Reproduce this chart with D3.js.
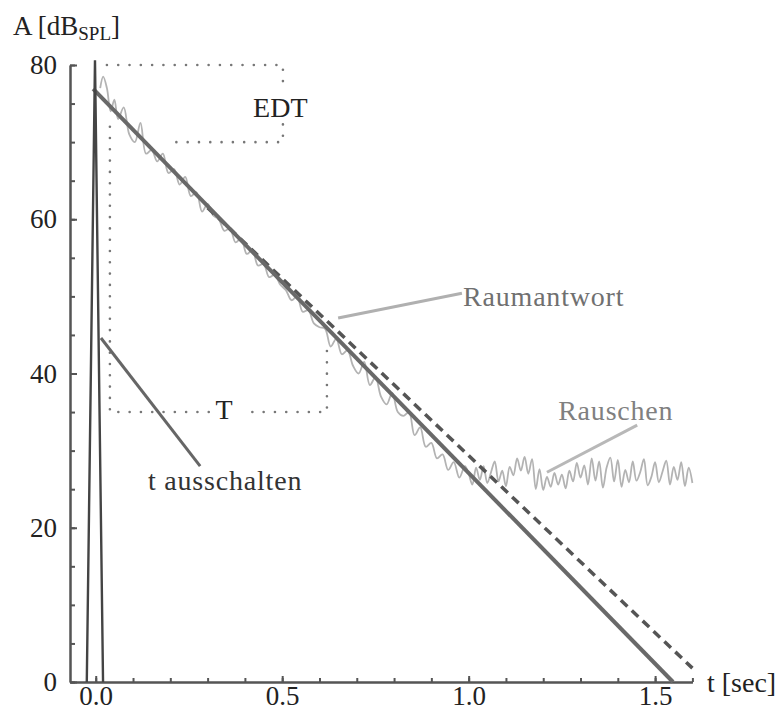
<!DOCTYPE html>
<html>
<head>
<meta charset="utf-8">
<script src="https://cdn.jsdelivr.net/npm/d3@7"></script>
<style>
  body { margin: 0; background: #fff; }
  svg text { font-family: "Liberation Serif", "Times New Roman", serif; }
</style>
</head>
<body>
<div id="chart"></div>
<script>
var raumT = [0.012, 0.02, 0.03, 0.04, 0.05, 0.06, 0.075, 0.09, 0.105, 0.12, 0.135, 0.15, 0.165, 0.18, 0.195,
    0.21, 0.225, 0.24, 0.255, 0.27, 0.285, 0.30, 0.315, 0.33, 0.345, 0.36, 0.375, 0.39, 0.405, 0.42, 0.435,
    0.45, 0.465, 0.48, 0.495, 0.51, 0.525, 0.54, 0.555, 0.57, 0.585, 0.60, 0.615, 0.63, 0.645, 0.66, 0.675,
    0.69, 0.705, 0.72, 0.735, 0.75, 0.765, 0.78, 0.795, 0.81, 0.825, 0.84, 0.855, 0.87, 0.885, 0.90, 0.915,
    0.93, 0.945, 0.96, 0.975, 0.99,
    1.00, 1.01, 1.02, 1.03, 1.04, 1.05, 1.06, 1.07, 1.08, 1.09, 1.10, 1.11, 1.12, 1.13, 1.14, 1.15, 1.16,
    1.17, 1.18, 1.19, 1.20, 1.21, 1.22, 1.23, 1.24, 1.25, 1.26, 1.27, 1.28, 1.29, 1.30, 1.31, 1.32, 1.33,
    1.34, 1.35, 1.36, 1.37, 1.38, 1.39, 1.40, 1.41, 1.42, 1.43, 1.44, 1.45, 1.46, 1.47, 1.48, 1.49, 1.50,
    1.51, 1.52, 1.53, 1.54, 1.55, 1.56, 1.57, 1.58, 1.59, 1.60];
var raumA = [77, 78.5, 77, 74, 75.5, 73, 74.5, 71, 70, 72.5, 68.5, 69, 67.5, 68.5, 66,
    66.5, 64.5, 65.5, 63, 63.5, 61, 62, 60.5, 60, 58.5, 58.8, 57, 57.5, 55.5, 56, 54,
    54.2, 52.5, 52.8, 51.5, 50.8, 49.5, 50, 48, 48.2, 46.5, 46, 45.8, 43.5, 44.5, 42.5, 43,
    41, 40, 41.5, 38.5, 39.5, 37, 36, 37.5, 35, 34.5, 35, 32, 33, 30.5, 31, 29,
    29.5, 27.5, 28.5, 26.5, 28,
    27.0, 25.6, 27.8, 26.2, 28.0, 25.8, 27.2, 28.6, 26.0, 27.4, 25.4, 27.9, 26.8, 29.0, 27.4, 29.2, 27.0,
    28.9, 25.0, 27.6, 24.9, 26.6, 25.3, 27.1, 25.6, 26.9, 25.1, 27.4, 26.0, 28.4, 26.5, 28.1, 25.6, 29.0,
    26.1, 28.6, 25.2, 27.8, 29.1, 26.0, 28.8, 25.3, 27.5, 25.9, 28.6, 26.1, 27.2, 28.9, 25.5, 26.6, 28.5,
    25.9, 27.3, 28.7, 25.6, 27.9, 26.2, 28.5, 25.4, 27.8, 25.8];

// switch-off impulse
var spikeT = [-0.024, -0.002, 0.0196];
var spikeA = [0, 80.6, 0];

// fitted decay line (solid) and extrapolated line (dashed)
var fitT = [-0.007, 1.548];
var fitA = [76.9, 0];
var dashT = [0.3, 1.6];
var dashA = [61.5, 1.8];

// dotted evaluation ranges
var edtBox = [[0.03, 80], [0.502, 80], [0.502, 77.3]];
var edtBox2 = [[0.502, 72.3], [0.502, 70], [0.186, 70]];
var tBox1 = [[0.038, 72], [0.038, 35], [0.33, 35]];
var tBox2 = [[0.42, 35], [0.62, 35], [0.62, 44]];

var yMajor = [0, 20, 40, 60, 80];
var yMinor = d3.range(0, 81, 5);
var xMajor = [0, 0.5, 1.0, 1.5];
var xMinor = [0, 0.1, 0.2, 0.3, 0.4, 0.5, 0.6, 0.7, 0.8, 0.9, 1.0, 1.1, 1.2, 1.3, 1.4, 1.5, 1.6];

var width = 783, height = 718;
var svg = d3.select("#chart").append("svg")
    .attr("width", width)
    .attr("height", height);

var x = d3.scaleLinear().domain([-0.069, 1.6]).range([70, 692.4]);
var y = d3.scaleLinear().domain([0, 80]).range([682, 65]);

var line = d3.line()
    .x(function (d) { return x(d[0]); })
    .y(function (d) { return y(d[1]); });

function pairs(ts, as) {
    return ts.map(function (t, i) { return [t, as[i]]; });
}

// axes
svg.append("g")
    .attr("transform", "translate(70,0)")
    .call(d3.axisLeft(y).tickValues(yMinor).tickSizeInner(-5).tickSizeOuter(0).tickFormat(""));
svg.append("g")
    .attr("transform", "translate(70,0)")
    .call(d3.axisLeft(y).tickValues(yMajor).tickSizeInner(-7).tickSizeOuter(0).tickPadding(13)
        .tickFormat(d3.format("d")));

svg.append("g")
    .attr("transform", "translate(0,682)")
    .call(d3.axisBottom(x).tickValues(xMinor).tickSizeInner(-4).tickSizeOuter(0).tickFormat(""));
svg.append("g")
    .attr("transform", "translate(0,682)")
    .call(d3.axisBottom(x).tickValues(xMajor).tickSizeInner(-6).tickSizeOuter(0).tickPadding(4)
        .tickFormat(d3.format(".1f")));

svg.selectAll(".domain").attr("stroke", "#555").attr("stroke-width", 2);
svg.selectAll(".tick line").attr("stroke", "#555").attr("stroke-width", 2);
svg.selectAll(".tick text")
    .attr("font-family", "Liberation Serif, serif")
    .attr("font-size", 27)
    .attr("fill", "#222");

// axis titles
var yTitle = svg.append("text")
    .attr("x", 13)
    .attr("y", 35)
    .attr("font-size", 27)
    .attr("fill", "#222");
yTitle.append("tspan").text("A [dB");
yTitle.append("tspan").attr("font-size", 19).attr("dy", 5).text("SPL");
yTitle.append("tspan").attr("dy", -5).text("]");

svg.append("text")
    .attr("x", 707)
    .attr("y", 692)
    .attr("font-size", 28)
    .attr("fill", "#222")
    .text("t [sec]");

// dotted boxes
[edtBox, edtBox2, tBox1, tBox2].forEach(function (b) {
    svg.append("path")
        .datum(b)
        .attr("fill", "none")
        .attr("stroke", "#777")
        .attr("stroke-width", 2.6)
        .attr("stroke-linecap", "round")
        .attr("stroke-dasharray", "0 11.3")
        .attr("d", line);
});

// room response
svg.append("path")
    .datum(pairs(raumT, raumA))
    .attr("fill", "none")
    .attr("stroke", "#b3b3b3")
    .attr("stroke-width", 1.8)
    .attr("d", line.curve(d3.curveCatmullRom.alpha(0.5)));
line.curve(d3.curveLinear);

// dashed extrapolation
svg.append("path")
    .datum(pairs(dashT, dashA))
    .attr("fill", "none")
    .attr("stroke", "#555")
    .attr("stroke-width", 3.5)
    .attr("stroke-dasharray", "9,6")
    .attr("d", line);

// solid fit
svg.append("path")
    .datum(pairs(fitT, fitA))
    .attr("fill", "none")
    .attr("stroke", "#696969")
    .attr("stroke-width", 4)
    .attr("d", line);

// impulse
svg.append("path")
    .datum(pairs(spikeT, spikeA))
    .attr("fill", "none")
    .attr("stroke", "#444")
    .attr("stroke-width", 2.4)
    .attr("stroke-linejoin", "miter")
    .attr("d", line);

// annotations: leader from [t, A] to [t, A]
var notes = [
    { text: "Raumantwort", from: [0.650, 47.2], to: [0.982, 50.4], lc: "#b0b0b0", tc: "#707070", tx: 0.985, ta: 48.8 },
    { text: "Rauschen", from: [1.210, 27.2], to: [1.452, 33.3], lc: "#b8b8b8", tc: "#808080", tx: 1.24, ta: 34.0 },
    { text: "t ausschalten", from: [0.014, 44.6], to: [0.280, 28.0], lc: "#666", tc: "#333", tx: 0.14, ta: 24.9 }
];
notes.forEach(function (n) {
    svg.append("path")
        .datum([n.from, n.to])
        .attr("fill", "none")
        .attr("stroke", n.lc)
        .attr("stroke-width", 3)
        .attr("d", line);
    svg.append("text")
        .attr("x", x(n.tx))
        .attr("y", y(n.ta))
        .attr("font-size", 28)
        .attr("letter-spacing", 0.8)
        .attr("fill", n.tc)
        .text(n.text);
});

svg.append("text")
    .attr("x", x(0.344))
    .attr("y", y(34.1))
    .attr("text-anchor", "middle")
    .attr("font-size", 28)
    .attr("fill", "#222")
    .text("T");

svg.append("text")
    .attr("x", x(0.495))
    .attr("y", y(73.3))
    .attr("text-anchor", "middle")
    .attr("font-size", 28)
    .attr("fill", "#222")
    .text("EDT");
</script>
</body>
</html>
